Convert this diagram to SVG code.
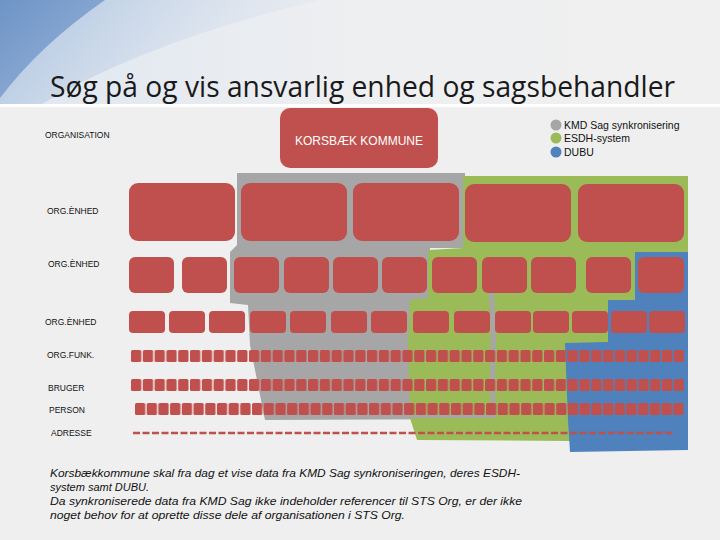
<svg xmlns="http://www.w3.org/2000/svg" width="720" height="540" viewBox="0 0 720 540">
<style>
.red{fill:#c0504d}
.lbl{font-family:"Liberation Sans",Arial,sans-serif;font-size:8.5px;fill:#111}
.leg{font-family:"Liberation Sans",Arial,sans-serif;font-size:10.5px;fill:#111}
.body{font-family:"Liberation Sans",Arial,sans-serif;font-size:11px;font-style:italic;fill:#111}
</style>
<defs>
<linearGradient id="hdr" x1="0" y1="0" x2="1" y2="0">
<stop offset="0" stop-color="#dfe7f1"/><stop offset="0.5" stop-color="#eeeff1"/><stop offset="1" stop-color="#f0f0f0"/>
</linearGradient>
<linearGradient id="sw1" x1="0" y1="0" x2="1" y2="0.3">
<stop offset="0" stop-color="#a9c0de"/><stop offset="1" stop-color="#e4eaf2" stop-opacity="0.3"/>
</linearGradient>
<linearGradient id="sw2" x1="0" y1="0" x2="1" y2="1">
<stop offset="0" stop-color="#6e94c6"/><stop offset="1" stop-color="#9bb6da"/>
</linearGradient>
<pattern id="sq4" patternUnits="userSpaceOnUse" x="131" y="350" width="11.8" height="12"><rect width="10.3" height="12" rx="1.5" fill="#c0504d"/></pattern>
<pattern id="sq5" patternUnits="userSpaceOnUse" x="131" y="379" width="11.8" height="12"><rect width="10.3" height="12" rx="1.5" fill="#c0504d"/></pattern>
<pattern id="sq6" patternUnits="userSpaceOnUse" x="135" y="403" width="11.7" height="12"><rect width="10.3" height="12" rx="1.5" fill="#c0504d"/></pattern>
</defs>
<rect width="720" height="540" fill="#efefef"/>
<rect width="720" height="105" fill="url(#hdr)"/>
<path d="M0,0 L320,0 Q150,40 40,105 L0,105 Z" fill="url(#sw1)"/>
<path d="M0,0 L105,0 Q40,45 0,98 Z" fill="url(#sw2)"/>
<rect x="0" y="104" width="720" height="3" fill="#ffffff"/>
<text x="50" y="97" font-family="Open Sans, Liberation Sans, sans-serif" font-size="30" fill="#1a1a1a" textLength="625" lengthAdjust="spacingAndGlyphs">Søg på og vis ansvarlig enhed og sagsbehandler</text>

<g id="regions">
<path id="gray-region" fill="#a6a6a6" d="M237,173 L465,173 L465,248 L430,248 L430,293 L500,293 L500,419 L265,420 L262,405 L250,345 L248,305 L230,303 L230,252 L237,245 Z"/>
<path id="green-region" fill="#9bbb59" d="M463,176 L688,176 L688,445 L570,445 L570,441 L417,440 L410,418 L408,345 L410,300 L428,298 L428,250 L463,248 Z"/>
<path fill="#a6a6a6" d="M489,293 L494,293 L496,340 L495,380 L496,417 L491,417 L490,380 L491,340 Z"/>
<rect x="405" y="415" width="91" height="3" fill="#a6a6a6"/>
<path id="blue-region" fill="#4f81bd" d="M635,252 L688,252 L688,450 L570,452 L568,420 L565,343 L608,342 L608,300 L635,300 Z"/>
</g>

<g id="kommune">
<rect x="280" y="108" width="158" height="60" rx="10" class="red"/>
<text x="359" y="145" text-anchor="middle" font-family="Liberation Sans, Arial, sans-serif" font-size="12" fill="#ffffff" textLength="128" lengthAdjust="spacingAndGlyphs">KORSBÆK KOMMUNE</text>
</g>

<g id="row1">
<rect x="129" y="183" width="106" height="58" rx="9" class="red"/>
<rect x="241" y="183" width="106" height="58" rx="9" class="red"/>
<rect x="353" y="183" width="106" height="58" rx="9" class="red"/>
<rect x="465" y="184" width="106" height="58" rx="9" class="red"/>
<rect x="578" y="184" width="106" height="58" rx="9" class="red"/>
</g>
<g id="row2">
<rect x="129" y="257" width="45" height="36" rx="6" class="red"/>
<rect x="182" y="257" width="45" height="36" rx="6" class="red"/>
<rect x="234" y="257" width="45" height="36" rx="6" class="red"/>
<rect x="284" y="257" width="45" height="36" rx="6" class="red"/>
<rect x="333" y="257" width="45" height="36" rx="6" class="red"/>
<rect x="382" y="257" width="45" height="36" rx="6" class="red"/>
<rect x="432" y="257" width="45" height="36" rx="6" class="red"/>
<rect x="482" y="257" width="45" height="36" rx="6" class="red"/>
<rect x="531" y="257" width="45" height="36" rx="6" class="red"/>
<rect x="586" y="257" width="45" height="36" rx="6" class="red"/>
<rect x="638" y="257" width="46" height="36" rx="6" class="red"/>
</g>
<g id="row3">
<rect x="129" y="311" width="36" height="22" rx="4" class="red"/>
<rect x="169" y="311" width="36" height="22" rx="4" class="red"/>
<rect x="209" y="311" width="36" height="22" rx="4" class="red"/>
<rect x="250" y="311" width="36" height="22" rx="4" class="red"/>
<rect x="290" y="311" width="36" height="22" rx="4" class="red"/>
<rect x="331" y="311" width="36" height="22" rx="4" class="red"/>
<rect x="371" y="311" width="36" height="22" rx="4" class="red"/>
<rect x="413" y="311" width="36" height="22" rx="4" class="red"/>
<rect x="454" y="311" width="36" height="22" rx="4" class="red"/>
<rect x="495" y="311" width="36" height="22" rx="4" class="red"/>
<rect x="533" y="311" width="36" height="22" rx="4" class="red"/>
<rect x="572" y="311" width="36" height="22" rx="4" class="red"/>
<rect x="611" y="311" width="36" height="22" rx="4" class="red"/>
<rect x="649" y="311" width="36" height="22" rx="4" class="red"/>
</g>
<g id="row4"><rect x="131" y="350" width="553" height="12" fill="url(#sq4)"/></g>
<g id="row5"><rect x="131" y="379" width="553" height="12" fill="url(#sq5)"/></g>
<g id="row6"><rect x="135" y="403" width="549" height="12" fill="url(#sq6)"/></g>
<g id="row7"><line x1="133" y1="433" x2="675" y2="433" stroke="#c0504d" stroke-width="2.5" stroke-dasharray="7 2.5"/></g>

<g id="labels">
<text class="lbl" x="45" y="138">ORGANISATION</text>
<text class="lbl" x="47" y="214">ORG.ÈNHED</text>
<text class="lbl" x="48" y="267">ORG.ÈNHED</text>
<text class="lbl" x="45" y="325">ORG.ÈNHED</text>
<text class="lbl" x="47" y="358">ORG.FUNK.</text>
<text class="lbl" x="48" y="391">BRUGER</text>
<text class="lbl" x="49" y="413">PERSON</text>
<text class="lbl" x="51" y="436">ADRESSE</text>
</g>

<g id="legend">
<circle cx="556" cy="125" r="5.5" fill="#a6a6a6"/>
<circle cx="556" cy="138" r="5.5" fill="#9bbb59"/>
<circle cx="556" cy="152" r="5.5" fill="#4f81bd"/>
<text class="leg" x="564" y="129">KMD Sag synkronisering</text>
<text class="leg" x="564" y="142">ESDH-system</text>
<text class="leg" x="564" y="156">DUBU</text>
</g>

<g id="note">
<text class="body" x="50" y="477" textLength="470" lengthAdjust="spacingAndGlyphs">Korsbækkommune skal fra dag et vise data fra KMD Sag synkroniseringen, deres ESDH-</text>
<text class="body" x="50" y="491">system samt DUBU.</text>
<text class="body" x="50" y="505" textLength="472" lengthAdjust="spacingAndGlyphs">Da synkroniserede data fra KMD Sag ikke indeholder referencer til STS Org, er der ikke</text>
<text class="body" x="50" y="519" textLength="355" lengthAdjust="spacingAndGlyphs">noget behov for at oprette disse dele af organisationen i STS Org.</text>
</g>
</svg>
